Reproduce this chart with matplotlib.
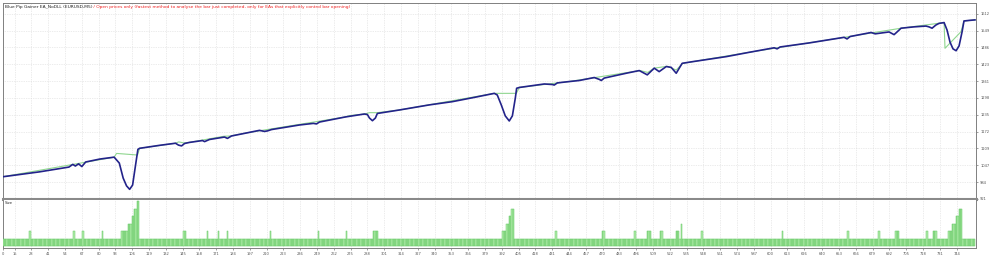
import matplotlib
matplotlib.use('Agg')
import matplotlib.pyplot as plt
import numpy as np

# balance curve (blue), trade number -> account value
bal_trade = [6, 34, 57, 60, 62, 64.5, 67, 70, 81, 92, 96, 99, 101.6, 104, 106.3, 108.6, 110.4, 111.7,
             127, 139.5, 141.8, 144.2, 146.5, 150.3, 160.4, 162, 165.8, 177.4, 179.7, 182.8, 195.2,
             204.5, 208.3, 210.7, 213.8, 235.4, 246.2, 248.6, 250.9, 271, 285.7, 288, 289.6, 291.9,
             294.2, 295.7, 312.8, 336, 353.7, 370.8, 386.2, 388.5, 391.6, 394.7, 397.8, 400.2, 402.5,
             403.5, 405.6, 424.9, 431.1, 432.6, 435, 444.2, 452, 463.6, 467.5, 469, 471.3, 488.3,
             498.4, 504.6, 510, 513.8, 519.3, 523.1, 527, 531.6, 539.4, 565.7, 583.4, 602.8, 605.1,
             607.4, 629.8, 656.9, 659.2, 661.6, 677.8, 681, 684, 691.7, 695.6, 697.9, 701, 711,
             720.3, 722.6, 725, 728, 730.4, 734.3, 736.6, 738.9, 741.2, 743.6, 745.9, 748.2, 749.7,
             753.6, 758.2]
bal_value = [1004, 1022, 1040, 1050, 1044, 1052, 1042, 1059, 1070, 1077, 1055, 999, 970, 957, 973, 1048,
             1106, 1110, 1121, 1129, 1122, 1119, 1128, 1132, 1139, 1135, 1143, 1152, 1147, 1156, 1168,
             1177, 1173, 1175, 1180, 1197, 1203, 1201, 1208, 1227, 1238, 1236, 1223, 1213, 1223, 1240,
             1253, 1272, 1284, 1300, 1315, 1309, 1272, 1231, 1212, 1231, 1298, 1334, 1337, 1350, 1348,
             1346, 1354, 1359, 1363, 1374, 1367, 1363, 1372, 1390, 1400, 1384, 1409, 1396, 1415, 1412,
             1390, 1427, 1433, 1452, 1468, 1485, 1481, 1488, 1503, 1524, 1518, 1527, 1542, 1537, 1539,
             1544, 1534, 1544, 1558, 1563, 1566, 1563, 1558, 1570, 1576, 1579, 1551, 1506, 1481, 1474,
             1492, 1544, 1585, 1587, 1589]

# equity curve (green)
eq_trade = [6, 92, 93.9, 110.1, 111.7, 139.5, 142, 146, 150, 177, 182, 195, 271, 274, 286, 289.6,
            295.7, 312.8, 386.2, 388.5, 403.3, 405.6, 444, 499, 505, 510, 520, 527, 532, 583, 657,
            701, 734.3, 735, 747.4, 749.7, 758.2]
eq_value = [1004, 1077, 1091, 1085, 1110, 1129, 1134, 1130, 1132, 1155, 1156, 1168, 1227, 1232, 1238,
            1243, 1243, 1253, 1315, 1315, 1315, 1337, 1359, 1400, 1393, 1409, 1416, 1402, 1427, 1468,
            1524, 1558, 1579, 1483, 1545, 1585, 1589]

# lot sizes per trade
n_trades = 759
lot_base = 0.01
spike_trades = [27, 61, 68, 83,
                98, 99, 100, 101, 102, 103, 104, 105, 106, 107, 108, 109, 110, 111,
                146, 147, 164, 173, 180, 213, 250,
                272, 293, 294, 295, 296,
                393, 394, 395, 396, 397, 398, 399, 400, 401,
                434, 470, 471, 495, 505, 506, 507, 515, 516,
                527, 528, 529, 531,
                547, 609, 660, 684, 697, 698, 699, 721, 726, 727, 728,
                738, 739, 740, 741, 742, 743, 744, 745, 746, 747, 748]
spike_lots = [0.02, 0.02, 0.02, 0.02,
              0.02, 0.02, 0.02, 0.02, 0.02, 0.03, 0.03, 0.03, 0.04, 0.04, 0.05, 0.05, 0.06, 0.06,
              0.02, 0.02, 0.02, 0.02, 0.02, 0.02, 0.02,
              0.02, 0.02, 0.02, 0.02, 0.02,
              0.02, 0.02, 0.02, 0.03, 0.03, 0.04, 0.04, 0.05, 0.05,
              0.02, 0.02, 0.02, 0.02, 0.02, 0.02, 0.02, 0.02, 0.02,
              0.02, 0.02, 0.02, 0.03,
              0.02, 0.02, 0.02, 0.02, 0.02, 0.02, 0.02, 0.02, 0.02, 0.02, 0.02,
              0.02, 0.02, 0.02, 0.03, 0.03, 0.03, 0.04, 0.04, 0.05, 0.05, 0.05]

y_ticks = [921, 983.8, 1046.6, 1109.4, 1172.2, 1235, 1297.8, 1360.6, 1423.4, 1486.2, 1549, 1611.8]
y_labels = ['921', '984', '1047', '1109', '1172', '1235', '1298', '1361', '1423', '1486', '1549', '1612']
x_labels = [0, 15, 28, 41, 54, 67, 80, 93, 106, 119, 132, 145, 158, 171, 184, 197, 210, 223, 236, 249,
            262, 275, 288, 301, 314, 327, 340, 353, 366, 379, 392, 405, 418, 431, 444, 457, 470, 483,
            496, 509, 522, 535, 548, 561, 574, 587, 600, 613, 626, 640, 653, 666, 679, 692, 705, 718,
            731, 744]

title_black = 'Blue Pip Gainer EA_NoDLL (EURUSD,M5)'
title_red = ' / Open prices only (fastest method to analyse the bar just completed, only for EAs that explicitly control bar opening)'

sizes = np.full(n_trades, lot_base)
sizes[spike_trades] = spike_lots

xmin, xmax = 6, 759
xtick_pos = [xmin] + x_labels[1:]

fig = plt.figure(figsize=(10, 2.59), dpi=100)
ax = fig.add_axes([0.003, 0.2317, 0.973, 0.7567])
ax2 = fig.add_axes([0.003, 0.0425, 0.973, 0.1853])

grid_kw = dict(color='#d9d9d9', linestyle=(0, (1, 1.5)), linewidth=0.5)

# main panel
ax.plot(eq_trade, eq_value, color='#8fd68f', lw=0.8, zorder=3)
ax.plot(bal_trade, bal_value, color='#23238a', lw=1.2, zorder=4, solid_joinstyle='round')
ax.set_xlim(xmin, xmax)
ax.set_ylim(921, 1652)
ax.set_yticks(y_ticks)
ax.set_yticklabels(y_labels)
ax.set_xticks(xtick_pos)
ax.yaxis.tick_right()
ax.tick_params(axis='y', labelsize=2.6, length=1.5, width=0.4, pad=1.5, colors='#555555')
ax.tick_params(axis='x', bottom=False, labelbottom=False)
ax.grid(True, zorder=0, **grid_kw)
for s in ax.spines.values():
    s.set_color('#808080')
    s.set_linewidth(0.7)
ax.spines['bottom'].set_linewidth(2.2)
ax.spines['bottom'].set_color('#8a8a8a')

t1 = ax.text(0.002, 0.988, title_black, transform=ax.transAxes, fontsize=3.2, va='top', ha='left',
             color='#222222')
ax.annotate(title_red, xy=(1, 0), xycoords=t1, va='bottom', ha='left', fontsize=3.2, color='#ee2020')

# size panel
ax2.bar(np.arange(n_trades), sizes, width=1.0, color='#b0ecaa', edgecolor='#66c866', linewidth=0.35,
        zorder=3)
ax2.set_xlim(xmin, xmax)
ax2.set_ylim(-0.00216, 0.0614)
ax2.set_yticks([])
ax2.set_xticks(xtick_pos)
ax2.set_xticklabels([str(v) for v in x_labels])
ax2.tick_params(axis='x', labelsize=2.6, length=1.5, width=0.4, pad=1.2, colors='#555555')
ax2.grid(True, axis='x', zorder=0, **grid_kw)
for s in ax2.spines.values():
    s.set_color('#808080')
    s.set_linewidth(0.7)
ax2.spines['top'].set_visible(False)
ax2.text(0.002, 0.97, 'Size', transform=ax2.transAxes, fontsize=2.8, va='top', ha='left', color='#333333')

fig.savefig('out.png', dpi=100)
